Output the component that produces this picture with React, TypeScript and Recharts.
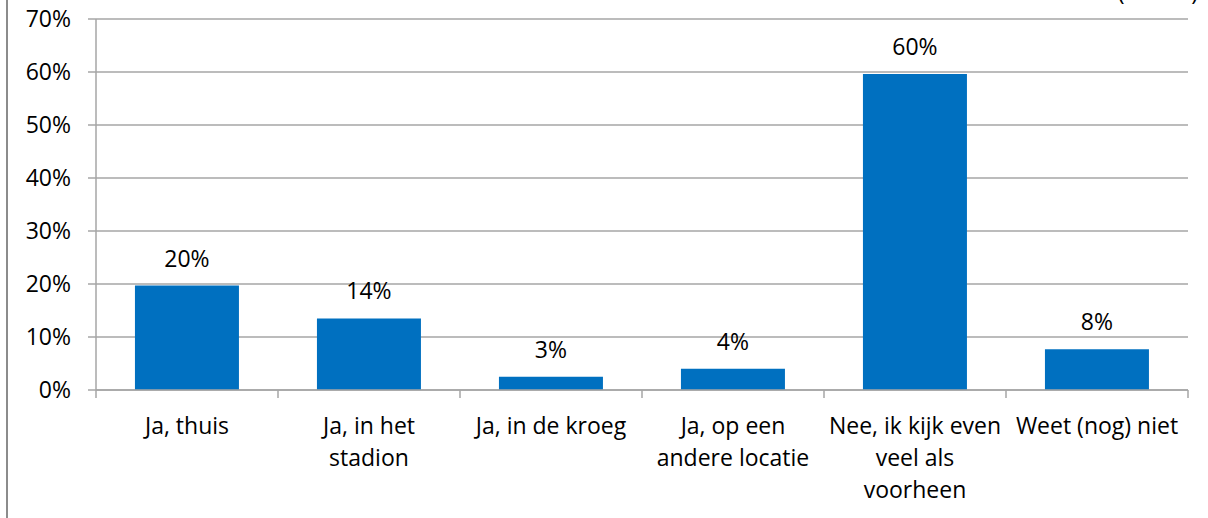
import { BarChart, Bar, XAxis, YAxis, CartesianGrid, LabelList } from "recharts";

const categories = [
  "Ja, thuis",
  "Ja, in het\nstadion",
  "Ja, in de kroeg",
  "Ja, op een\nandere locatie",
  "Nee, ik kijk even\nveel als\nvoorheen",
  "Weet (nog) niet",
];
const shares = [19.7, 13.5, 2.5, 4.0, 59.6, 7.7];
const yTicks = [0, 10, 20, 30, 40, 50, 60, 70];
const sampleNote = "(n=169)";

const data = categories.map((name, i) => ({ name, value: shares[i] }));

const FONT = "'Open Sans', sans-serif";
const GRID = "#a6a6a6";

function CategoryTick(props: any) {
  const { x, y, payload, index, visibleTicksCount } = props;
  const half = payload?.offset ?? 91;
  const lines = String(payload.value).split("\n");
  const axisY = y - 8;
  return (
    <g>
      <line x1={x - half} y1={axisY} x2={x - half} y2={axisY + 8} stroke={GRID} strokeWidth={1.5} />
      {index === visibleTicksCount - 1 && (
        <line x1={x + half} y1={axisY} x2={x + half} y2={axisY + 8} stroke={GRID} strokeWidth={1.5} />
      )}
      <text x={x} y={axisY + 44} textAnchor="middle" fill="#000" fontSize={23} fontFamily={FONT}>
        {lines.map((l, i) => (
          <tspan key={i} x={x} dy={i === 0 ? 0 : 32}>
            {l}
          </tspan>
        ))}
      </text>
    </g>
  );
}

export default function App() {
  return (
    <div style={{ position: "absolute", left: 0, top: 0, width: 1208, height: 518, background: "#fff" }}>
      <div style={{ position: "absolute", left: 6, top: 0, width: 2, height: 518, background: "#8c8c8c" }} />
      <div
        style={{
          position: "absolute",
          right: 10,
          top: -22,
          fontFamily: FONT,
          fontSize: 23,
          lineHeight: "26px",
          color: "#000",
        }}
      >
        {sampleNote}
      </div>
      <BarChart
        width={1208}
        height={518}
        data={data}
        margin={{ top: 19, right: 20, bottom: 0, left: 0 }}
        barCategoryGap="21.4%"
      >
        <CartesianGrid vertical={false} stroke={GRID} strokeWidth={1.5} />
        <YAxis
          width={96}
          domain={[0, 70]}
          ticks={yTicks}
          interval={0}
          axisLine={{ stroke: GRID, strokeWidth: 1.5 }}
          tickLine={{ stroke: GRID, strokeWidth: 1.5 }}
          tickSize={8}
          tickMargin={17}
          tickFormatter={(v) => `${v}%`}
          tick={{ fill: "#000", fontSize: 23, fontFamily: FONT }}
        />
        <XAxis
          dataKey="name"
          height={128}
          interval={0}
          axisLine={{ stroke: GRID, strokeWidth: 1.5 }}
          tickLine={false}
          tickSize={8}
          tickMargin={0}
          tick={<CategoryTick />}
        />
        <Bar dataKey="value" fill="#0070c0" isAnimationActive={false}>
          <LabelList
            dataKey="value"
            position="top"
            offset={19}
            formatter={(v: any) => `${Math.round(Number(v))}%`}
            style={{ fill: "#000", fontSize: 23, fontFamily: FONT }}
          />
        </Bar>
      </BarChart>
    </div>
  );
}
